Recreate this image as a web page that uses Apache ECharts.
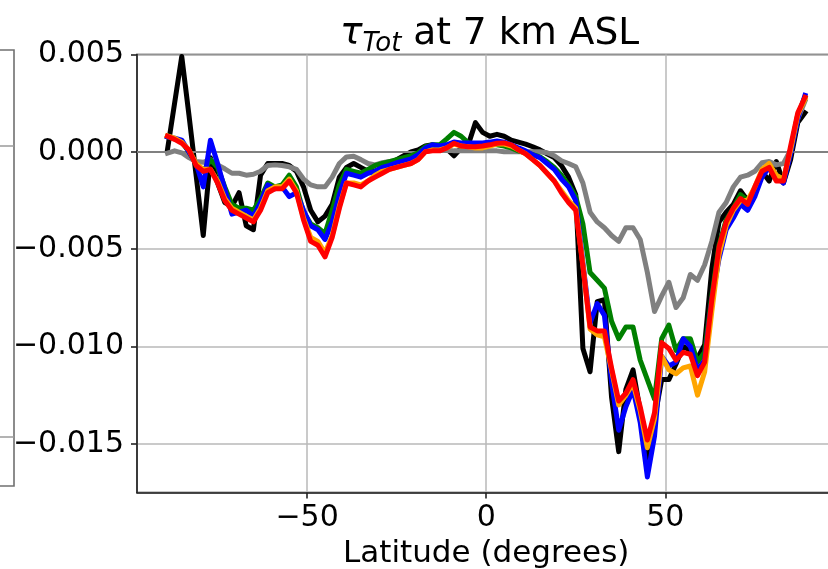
<!DOCTYPE html>
<html>
<head>
<meta charset="utf-8">
<script src="https://cdn.jsdelivr.net/npm/echarts@6/dist/echarts.min.js"></script>
<style>
html,body{margin:0;padding:0;background:#fff;}
#chart{width:828px;height:569px;}
</style>
</head>
<body>
<div id="chart"></div>
<script>
// Latitude grid (degrees)
const latitudes = [-89,-87,-85,-83,-81,-79,-77,-75,-73,-71,-69,-67,-65,-63,-61,-59,-57,-55,-53,-51,-49,-47,-45,-43,-41,-39,-37,-35,-33,-31,-29,-27,-25,-23,-21,-19,-17,-15,-13,-11,-9,-7,-5,-3,-1,1,3,5,7,9,11,13,15,17,19,21,23,25,27,29,31,33,35,37,39,41,43,45,47,49,51,53,55,57,59,61,63,65,67,69,71,73,75,77,79,81,83,85,87,89];

const tauBlack = [
  0.0001, 0.0025, 0.0049, 0.0019, -0.0012, -0.0043, -0.0003, -0.0016, -0.0026, -0.0028,
  -0.0021, -0.0038, -0.004, -0.0012, -0.0006, -0.0006, -0.0006, -0.0007, -0.001, -0.0018,
  -0.003, -0.0036, -0.0033, -0.0027, -0.0013, -0.0008, -0.0006, -0.0008, -0.001, -0.001,
  -0.0008, -0.0006, -0.0004, -0.0002, 0, 0.0001, 0.0003, 0.00036, 0.00026, 0.00015,
  -0.0002, 0.0002, 0.00036, 0.0015, 0.001, 0.0008, 0.0009, 0.0008, 0.0006, 0.0005,
  0.0004, 0.00026, 0.0001, -0.0001, -0.0003, -0.0007, -0.0013, -0.0022, -0.0101, -0.0113,
  -0.0077, -0.0076, -0.0126, -0.0154, -0.0122, -0.0112, -0.0133, -0.0157, -0.0137, -0.0117,
  -0.0117, -0.0109, -0.01, -0.0102, -0.0106, -0.0099, -0.006, -0.0036, -0.0031, -0.0027,
  -0.002, -0.0025, -0.002, -0.001, -0.0015, -0.0005, -0.0016, -0.0004, 0.0015, 0.002
];
const tauGray = [
  -0.00007, 0.00005, -0.00005, -0.0003, -0.0005, -0.00054, -0.0004, -0.00067, -0.00087, -0.0011,
  -0.0011, -0.0012, -0.00115, -0.001, -0.0007, -0.00067, -0.0007, -0.00077, -0.0009, -0.0014,
  -0.0017, -0.0018, -0.0018, -0.0013, -0.0006, -0.00026, -0.00023, -0.0004, -0.0006, -0.00067,
  -0.00056, -0.0005, -0.00046, -0.0004, -0.00028, -0.00015, 0.00003, 0.00008, 0.0001, 0.0001,
  0.00005, 0.00005, 0.00005, 0.00005, 0.00005, 0.00005, 0.00005, 0, 0, 0,
  0, 0, 0, -0.00005, -0.0002, -0.00046, -0.0006, -0.00077, -0.0016, -0.0031,
  -0.0036, -0.0039, -0.0043, -0.0046, -0.0039, -0.0039, -0.0045, -0.0062, -0.0082, -0.0074,
  -0.0067, -0.008, -0.0075, -0.0063, -0.0066, -0.0058, -0.0046, -0.0031, -0.0026, -0.0018,
  -0.0013, -0.0012, -0.001, -0.00056, -0.0005, -0.00067, -0.0006, 0.0001, 0.0017, 0.0026
];
const tauGreen = [
  0.00077, 0.00067, 0.0005, 0, -0.0006, -0.001, -0.0004, -0.0008, -0.0018, -0.0027,
  -0.0029, -0.0029, -0.003, -0.0024, -0.0016, -0.0018, -0.0017, -0.0012, -0.0018, -0.0031,
  -0.0037, -0.0039, -0.0042, -0.003, -0.0017, -0.0009, -0.001, -0.0011, -0.0009, -0.0007,
  -0.0006, -0.0005, -0.0004, -0.0003, -0.0002, -0.00005, 0.00026, 0.00036, 0.00036, 0.00067,
  0.001, 0.0008, 0.00046, 0.0004, 0.0004, 0.0004, 0.00036, 0.0003, 0.0002, 0.00005,
  -0.00005, -0.00015, -0.00026, -0.0005, -0.0008, -0.0012, -0.0017, -0.0023, -0.0037, -0.0062,
  -0.0066, -0.007, -0.0087, -0.0096, -0.009, -0.009, -0.0107, -0.0117, -0.0127, -0.0096,
  -0.0089, -0.0102, -0.0096, -0.0096, -0.0108, -0.0103, -0.0074, -0.0048, -0.0035, -0.0029,
  -0.0022, -0.0025, -0.0019, -0.001, -0.0007, -0.0012, -0.0015, 0.0001, 0.0019, 0.0028
];
const tauBlue = [
  0.00077, 0.0007, 0.0006, 0, -0.0006, -0.0018, 0.0006, -0.0006, -0.0019, -0.0032,
  -0.0031, -0.003, -0.0033, -0.0026, -0.0017, -0.0019, -0.0018, -0.0023, -0.0021, -0.003,
  -0.0038, -0.004, -0.0045, -0.0036, -0.0022, -0.0011, -0.0012, -0.0013, -0.0011, -0.001,
  -0.0008, -0.0007, -0.00056, -0.00046, -0.00036, -0.00015, 0.0002, 0.00036, 0.0003, 0.00036,
  0.0005, 0.00046, 0.00046, 0.00046, 0.00046, 0.0005, 0.00056, 0.0005, 0.00036, 0.0002,
  0.00005, -0.00015, -0.0003, -0.0006, -0.0009, -0.0014, -0.0018, -0.0025, -0.0057, -0.0088,
  -0.0078, -0.0084, -0.0118, -0.0143, -0.0131, -0.0122, -0.0139, -0.0167, -0.0146, -0.0105,
  -0.011, -0.0108, -0.0096, -0.01, -0.0112, -0.0107, -0.0076, -0.0055, -0.004, -0.0034,
  -0.0027, -0.003, -0.0023, -0.0013, -0.0008, -0.0013, -0.0016, -0.0001, 0.0017, 0.0029
];
const tauOrange = [
  0.00082, 0.0007, 0.0005, 0.0001, -0.0006, -0.0009, -0.0009, -0.0015, -0.0024, -0.0029,
  -0.0031, -0.0033, -0.0035, -0.0029, -0.002, -0.0018, -0.0018, -0.0014, -0.002, -0.0034,
  -0.0044, -0.0046, -0.0052, -0.0043, -0.0028, -0.0016, -0.0016, -0.0017, -0.0015, -0.0012,
  -0.001, -0.0009, -0.0008, -0.0007, -0.0006, -0.0004, 0, 0.0001, 0.0001, 0.0002,
  0.0004, 0.0003, 0.00026, 0.0002, 0.0002, 0.0003, 0.0004, 0.0004, 0.0003, 0.0001,
  -0.0001, -0.0004, -0.0007, -0.0011, -0.0015, -0.002, -0.0025, -0.0029, -0.0058, -0.0091,
  -0.0094, -0.0095, -0.0112, -0.013, -0.0125, -0.0119, -0.0133, -0.0152, -0.0137, -0.0105,
  -0.0112, -0.0114, -0.0111, -0.011, -0.0125, -0.0113, -0.0082, -0.0053, -0.0038, -0.003,
  -0.0025, -0.0025, -0.0018, -0.0009, -0.0006, -0.0012, -0.0014, 0.0001, 0.0019, 0.0027
];
const tauRed = [
  0.0008, 0.00064, 0.00044, 0.0001, -0.0007, -0.001, -0.0009, -0.0016, -0.0025, -0.003,
  -0.0032, -0.0034, -0.0036, -0.003, -0.0021, -0.0019, -0.0019, -0.0015, -0.0021, -0.0035,
  -0.0046, -0.0048, -0.0054, -0.0044, -0.0029, -0.0016, -0.0017, -0.0018, -0.0015, -0.0013,
  -0.0011, -0.0009, -0.0008, -0.0007, -0.0006, -0.0004, 0, 0.00005, 0.00005, 0.0002,
  0.00044, 0.0003, 0.00026, 0.00026, 0.0003, 0.00036, 0.00044, 0.00046, 0.00036, 0.0001,
  -0.0001, -0.0004, -0.0007, -0.0011, -0.0015, -0.0021, -0.0026, -0.003, -0.0059, -0.009,
  -0.0092, -0.0092, -0.0111, -0.0128, -0.0124, -0.0117, -0.0131, -0.0148, -0.0134, -0.0098,
  -0.0101, -0.0107, -0.0103, -0.0104, -0.0115, -0.0108, -0.0076, -0.0049, -0.0036, -0.0029,
  -0.0024, -0.0027, -0.0018, -0.001, -0.0008, -0.0015, -0.0015, 0.0003, 0.002, 0.0028
];

const seriesDefs = [
  { name: 'black', color: '#000000', values: tauBlack },
  { name: 'gray', color: '#808080', values: tauGray },
  { name: 'green', color: '#008000', values: tauGreen },
  { name: 'blue', color: '#0000ff', values: tauBlue },
  { name: 'orange', color: '#ffa500', values: tauOrange },
  { name: 'red', color: '#ff0000', values: tauRed }
];

const FONT = 'DejaVu Sans';
const chart = echarts.init(document.getElementById('chart'), null, { renderer: 'canvas' });

const series = seriesDefs.map((s, k) => ({
  name: s.name,
  type: 'line',
  data: latitudes.map((lat, i) => [lat, s.values[i]]),
  showSymbol: false,
  symbol: 'none',
  z: 3 + k,
  lineStyle: { color: s.color, width: 5, join: 'round', cap: 'square' },
  itemStyle: { color: s.color },
  emphasis: { disabled: true },
  animation: false
}));
series.unshift({
  name: 'zero',
  type: 'line',
  data: [],
  z: 2,
  silent: true,
  markLine: {
    silent: true,
    symbol: ['none', 'none'],
    label: { show: false },
    lineStyle: { color: '#808080', width: 2, type: 'solid' },
    data: [{ yAxis: 0 }],
    animation: false
  }
});

chart.setOption({
  animation: false,
  backgroundColor: '#ffffff',
  title: {
    text: '{t|τ}{s|Tot}{n| at 7 km ASL}',
    left: 335,
    top: 7,
    textStyle: {
      fontWeight: 'normal',
      rich: {
        t: { fontFamily: FONT, fontStyle: 'italic', fontWeight: 'normal', fontSize: 37.5, lineHeight: 45, color: '#000' },
        s: { fontFamily: FONT, fontStyle: 'italic', fontWeight: 'normal', fontSize: 26, lineHeight: 26, verticalAlign: 'bottom', color: '#000' },
        n: { fontFamily: FONT, fontWeight: 'normal', fontSize: 37.5, lineHeight: 45, color: '#000' }
      }
    }
  },
  grid: {
    left: 137, right: -7.4, top: 54.5, bottom: 76.5,
    outerBoundsMode: 'none',
    containLabel: false,
    show: true, borderColor: '#222', borderWidth: 1.6, backgroundColor: 'transparent'
  },
  xAxis: {
    type: 'value',
    min: -97.5, max: 97.5,
    splitNumber: 4,
    name: 'Latitude (degrees)',
    nameLocation: 'middle',
    nameGap: 44,
    nameTextStyle: { fontFamily: FONT, fontSize: 31, color: '#000' },
    axisLine: { show: true, onZero: false, lineStyle: { color: '#222', width: 1.6 } },
    axisTick: { show: true, inside: false, length: 6, lineStyle: { color: '#222', width: 1.6 } },
    axisLabel: {
      fontFamily: FONT, fontSize: 30, color: '#000', margin: 11,
      showMinLabel: false, showMaxLabel: false,
      formatter: v => v < 0 ? '\u2212' + Math.abs(v) : String(v)
    },
    splitLine: { show: true, lineStyle: { color: '#b8b8b8', width: 1.5 } }
  },
  yAxis: {
    type: 'value',
    min: -0.0175, max: 0.005,
    splitNumber: 5,
    axisLine: { show: true, onZero: false, lineStyle: { color: '#222', width: 1.6 } },
    axisTick: { show: true, inside: false, length: 6, lineStyle: { color: '#222', width: 1.6 } },
    axisLabel: {
      fontFamily: FONT, fontSize: 30, color: '#000', margin: 13,
      showMinLabel: false,
      formatter: v => (v < -1e-9 ? '\u2212' : '') + Math.abs(v).toFixed(3)
    },
    splitLine: { show: true, lineStyle: { color: '#b8b8b8', width: 1.5 } }
  },
  graphic: [
    { type: 'polyline', silent: true, shape: { points: [[-5, 50], [14, 50], [14, 486], [-5, 486]] },
      style: { stroke: '#707070', lineWidth: 1.6, fill: null } },
    { type: 'line', silent: true, shape: { x1: 0, y1: 146, x2: 14, y2: 146 }, style: { stroke: '#9a9a9a', lineWidth: 1.5 } },
    { type: 'line', silent: true, shape: { x1: 0, y1: 437, x2: 14, y2: 437 }, style: { stroke: '#9a9a9a', lineWidth: 1.5 } }
  ],
  series: series
});
</script>
</body>
</html>
